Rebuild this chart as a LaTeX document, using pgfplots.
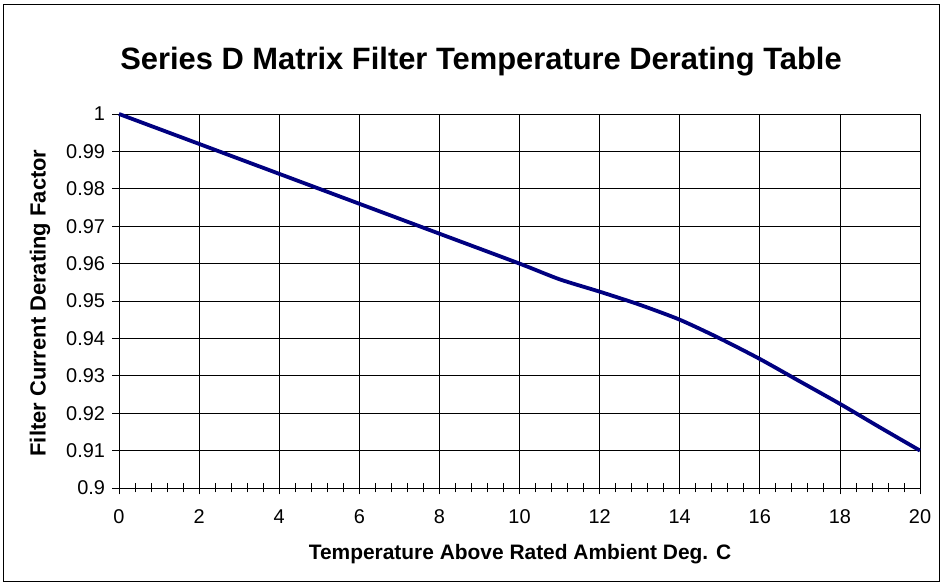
\documentclass[border=0pt]{standalone}
\usepackage{fontspec}
\setmainfont{Liberation Sans}
\usepackage{pgfplots}
\pgfplotsset{compat=1.18}
\newcommand{\tl}[1]{\mbox{\fontsize{20}{24}\selectfont #1}}
\begin{document}
\begin{tikzpicture}[x=1bp,y=1bp]
\useasboundingbox (-119,-98) rectangle (823,488);
\draw[black, line width=1bp] (-115,-94) rectangle (820,483);
\begin{axis}[
  at={(0,0)}, anchor=south west,
  scale only axis,
  width=801bp, height=374bp,
  xmin=0, xmax=20, ymin=0.9, ymax=1,
  xtick={0,2,...,20},
  xticklabels={\tl{0},\tl{2},\tl{4},\tl{6},\tl{8},\tl{10},\tl{12},\tl{14},\tl{16},\tl{18},\tl{20}},
  minor x tick num=4,
  ytick={0.9,0.91,0.92,0.93,0.94,0.95,0.96,0.97,0.98,0.99,1},
  yticklabels={\tl{0.9},\tl{0.91},\tl{0.92},\tl{0.93},\tl{0.94},\tl{0.95},\tl{0.96},\tl{0.97},\tl{0.98},\tl{0.99},\tl{1}},
  xmajorgrids, ymajorgrids,
  major grid style={black, line width=0.8bp},
  xtick pos=bottom, ytick pos=left,
  tick align=center,
  major tick length=13bp, minor tick length=9bp,
  tick style={black, line width=0.8bp},
  axis line style={black, line width=0.8bp},
  xticklabel style={yshift=-12bp},
  yticklabel style={xshift=-4bp},
  clip=false,
]
\addplot[color={rgb,255:red,0;green,0;blue,128}, line width=3.8bp, smooth, tension=0.4] coordinates {
 (0,1.000) (2,0.992) (4,0.984) (6,0.976) (8,0.968) (10,0.960)
 (11,0.9558) (12,0.9525) (13,0.9490) (14,0.9450) (15,0.9400)
 (16,0.9345) (17,0.9285) (18,0.9225) (19,0.9162) (20,0.9100)
};
\end{axis}
\node[font=\bfseries\fontsize{31}{36}\selectfont] at (362,426) {Series D Matrix Filter Temperature Derating Table};
\node[font=\bfseries\fontsize{21}{25}\selectfont] at (401,-66) {Temperature Above Rated Ambient Deg. C};
\node[font=\bfseries\fontsize{22}{26}\selectfont, rotate=90] at (-79,185) {Filter Current Derating Factor};
\end{tikzpicture}
\end{document}
